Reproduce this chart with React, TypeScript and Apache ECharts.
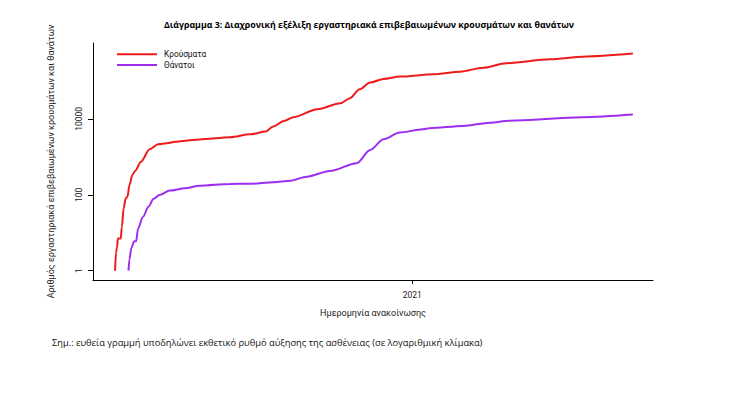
import React, { useEffect, useRef } from "react";
import * as echarts from "echarts";

const titleText =
  "Διάγραμμα 3: Διαχρονική εξέλιξη εργαστηριακά επιβεβαιωμένων κρουσμάτων και θανάτων";
const yAxisName = "Αριθμός εργαστηριακά επιβεβαιωμένων κρουσμάτων και θανάτων";
const xAxisName = "Ημερομηνία ανακοίνωσης";
const noteText =
  "Σημ.: ευθεία γραμμή υποδηλώνει εκθετικό ρυθμό αύξησης της ασθένειας (σε λογαριθμική κλίμακα)";
const seriesNames = ["Κρούσματα", "Θάνατοι"];

const yTickValues = [1, 100, 10000];
const xTickDates = ["2021-01-01"];

const caseDates = [
  "2020-02-26", "2020-02-27", "2020-02-28", "2020-02-29", "2020-03-03", "2020-03-04",
  "2020-03-06", "2020-03-08", "2020-03-10", "2020-03-12", "2020-03-15", "2020-03-18",
  "2020-03-24", "2020-04-02", "2020-04-11", "2020-04-20", "2020-04-29", "2020-05-09",
  "2020-05-24", "2020-06-25", "2020-07-16", "2020-08-01", "2020-08-09", "2020-08-20",
  "2020-08-30", "2020-09-24", "2020-10-18", "2020-10-28", "2020-11-07", "2020-11-18",
  "2020-12-02", "2020-12-19", "2021-01-23", "2021-02-20", "2021-03-16", "2021-04-09",
  "2021-05-25", "2021-06-28", "2021-08-19",
];
const caseValues = [
  1, 3, 4, 7, 7, 14,
  44, 80, 89, 180, 330, 430,
  745, 1590, 2140, 2270, 2500, 2670,
  2880, 3300, 3940, 4620, 6300, 8850,
  11070, 18000, 25900, 35100, 60500, 90600,
  113000, 130000, 150800, 176000, 224000, 294000,
  374000, 437000, 526000,
];

const deathDates = [
  "2020-03-11", "2020-03-12", "2020-03-14", "2020-03-17", "2020-03-19", "2020-03-21",
  "2020-03-26", "2020-04-01", "2020-04-06", "2020-04-13", "2020-04-23", "2020-05-09",
  "2020-05-24", "2020-06-25", "2020-07-16", "2020-08-09", "2020-08-27", "2020-09-13",
  "2020-10-07", "2020-11-04", "2020-11-18", "2020-12-02", "2020-12-19", "2021-01-12",
  "2021-01-19", "2021-02-23", "2021-03-23", "2021-04-12", "2021-06-28", "2021-08-19",
];
const deathValues = [
  1, 2, 4, 6, 6, 13,
  26, 49, 78, 100, 129, 149,
  174, 193, 195, 215, 236, 300,
  425, 680, 1520, 2900, 4360, 5350,
  5680, 6530, 7950, 9000, 11070, 12970,
];

const xMinDate = "2020-02-03";
const xMaxDate = "2021-09-09";
const yMin = 0.568;
const yMax = 1000000;

const toTime = (d: string) => Date.parse(d + "T00:00:00Z");
const zip = (d: string[], v: number[]) => d.map((x, i) => [toTime(x), v[i]]);

export default function App() {
  const ref = useRef<HTMLDivElement>(null);
  useEffect(() => {
    if (!ref.current) return;
    const chart = echarts.init(ref.current, null, { renderer: "svg" });
    const axisFont = "Roboto, 'Liberation Sans', sans-serif";
    const xTicks = xTickDates.map(toTime);
    chart.setOption({
      animation: false,
      backgroundColor: "#ffffff",
      title: {
        text: titleText,
        left: 364,
        top: 15,
        textAlign: "center",
        textStyle: {
          fontFamily: "'Open Sans', sans-serif",
          fontWeight: "bold",
          fontSize: 8.8,
          color: "#000",
        },
      },
      legend: {
        orient: "vertical",
        left: 112,
        top: 44,
        itemWidth: 40,
        itemHeight: 2,
        itemGap: 0,
        icon: "rect",
        data: seriesNames,
        formatter: "{t|{name}}",
        textStyle: {
          fontFamily: axisFont,
          fontSize: 8.3,
          color: "#111",
          lineHeight: 10.7,
          padding: [0, 0, 0, 2],
          rich: {
            t: {
              fontFamily: axisFont,
              fontSize: 8.3,
              color: "#111",
              lineHeight: 10.7,
            },
          },
        },
      },
      grid: {
        left: 93,
        right: 85,
        top: 43,
        bottom: 118,
        containLabel: false,
      },
      xAxis: {
        type: "value",
        min: toTime(xMinDate),
        max: toTime(xMaxDate),
        name: xAxisName,
        nameLocation: "middle",
        nameGap: 28,
        nameTextStyle: { fontFamily: axisFont, fontSize: 9, color: "#222" },
        axisLine: { show: true, lineStyle: { color: "#000", width: 1 } },
        axisTick: { show: true, length: 4, customValues: xTicks, lineStyle: { color: "#000" } },
        axisLabel: {
          customValues: xTicks,
          formatter: (v: number) => String(new Date(v).getUTCFullYear()),
          fontFamily: axisFont,
          fontSize: 8.5,
          color: "#222",
          margin: 10,
        },
        splitLine: { show: false },
      },
      yAxis: {
        type: "log",
        logBase: 10,
        min: yMin,
        max: yMax,
        name: yAxisName,
        nameLocation: "middle",
        nameGap: 38,
        nameTextStyle: { fontFamily: axisFont, fontSize: 9, color: "#222" },
        axisLine: { show: true, lineStyle: { color: "#000", width: 1 } },
        axisTick: { show: true, length: 5, customValues: yTickValues, lineStyle: { color: "#000" } },
        axisLabel: {
          customValues: yTickValues,
          rotate: 90,
          formatter: (v: number) => String(Math.round(v)),
          fontFamily: axisFont,
          fontSize: 8.5,
          color: "#222",
          margin: 10,
        },
        splitLine: { show: false },
      },
      graphic: [
        {
          type: "text",
          left: 52,
          top: 338,
          style: {
            text: noteText,
            fontFamily: "'Open Sans', sans-serif",
            fontSize: 9.3,
            fill: "#111",
          },
        },
      ],
      series: [
        {
          name: seriesNames[0],
          type: "line",
          data: zip(caseDates, caseValues),
          showSymbol: false,
          smooth: 0.3,
          smoothMonotone: "x",
          color: "#ee1b1b",
          lineStyle: { width: 2, color: "#ee1b1b" },
        },
        {
          name: seriesNames[1],
          type: "line",
          data: zip(deathDates, deathValues),
          showSymbol: false,
          smooth: 0.3,
          smoothMonotone: "x",
          color: "#9b2ef0",
          lineStyle: { width: 2, color: "#9b2ef0" },
        },
      ],
    });
    return () => chart.dispose();
  }, []);
  return (
    <div
      ref={ref}
      style={{ position: "fixed", left: 0, top: 0, width: 738, height: 398 }}
    />
  );
}
